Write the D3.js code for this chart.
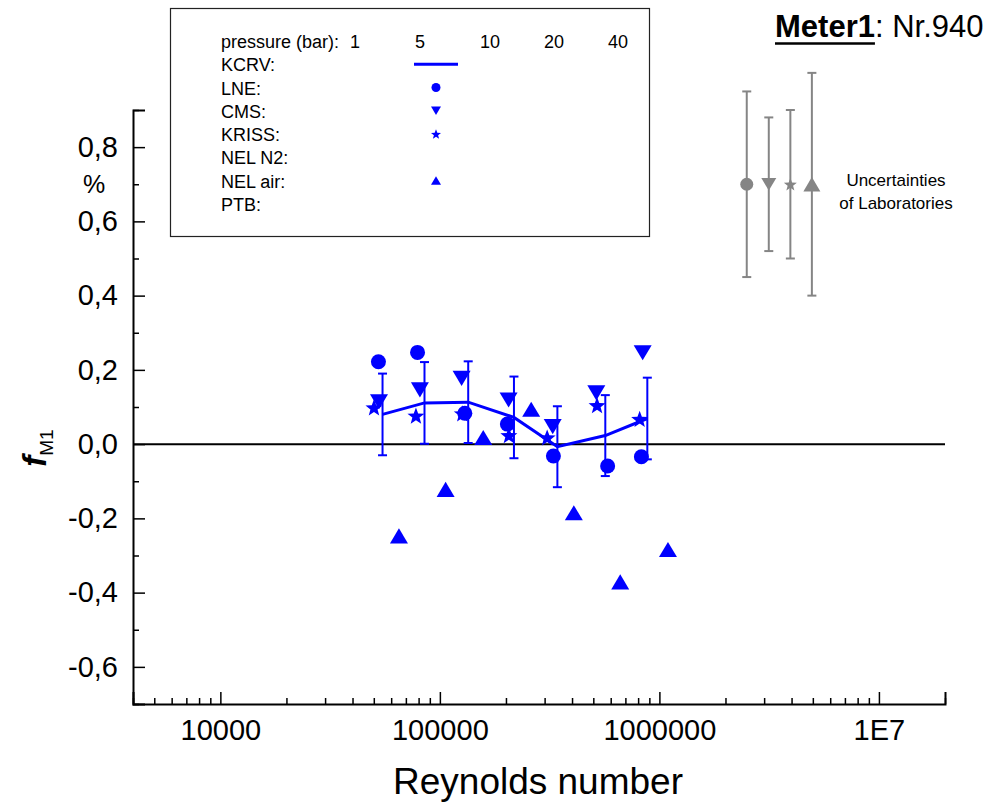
<!DOCTYPE html>
<html><head><meta charset="utf-8">
<script src="https://cdn.jsdelivr.net/npm/d3@7"></script>
<style>
body{margin:0;background:#fff}
svg{display:block}
text{font-family:"Liberation Sans",Arial,Helvetica,sans-serif}
</style>
</head><body>
<svg id="chart" width="994" height="807"></svg>
<script>
// ---------- data ----------
const kcrvRe = [54800, 85100, 134600, 217500, 343000, 567000, 881000];
const kcrvF  = [0.080, 0.111, 0.113, 0.072, -0.007, 0.023, 0.069];
const kcrvU  = [0.110, 0.110, 0.110, 0.110, 0.109, 0.109, 0.110];

const lneRe = [52500, 79100, 129900, 203000, 329000, 581000, 828000];
const lneF  = [0.222, 0.247, 0.083, 0.054, -0.032, -0.059, -0.034];

const cmsRe = [52800, 81100, 125600, 205600, 326600, 516000, 839000];
const cmsF  = [0.114, 0.146, 0.177, 0.119, 0.047, 0.138, 0.246];

const krissRe = [50100, 77800, 126500, 206200, 308100, 520000, 813000];
const krissF  = [0.099, 0.077, 0.083, 0.024, 0.018, 0.105, 0.068];

const nelAirRe = [65100, 106200, 157600, 260600, 407600, 663000, 1094000];
const nelAirF  = [-0.247, -0.122, 0.018, 0.094, -0.185, -0.371, -0.284];

// uncertainties of laboratories (LNE, CMS, KRISS, NEL air)
const labSymbols = ["circle", "down", "star", "up"];
const labRe = [2500000, 3150000, 3950000, 4950000];
const labF  = [0.70, 0.70, 0.70, 0.70];
const labU  = [0.25, 0.18, 0.20, 0.30];

const xTickValues = [10000, 100000, 1000000, 10000000];
const xTickLabels = ["10000", "100000", "1000000", "1E7"];
const yTickValues = [-0.6, -0.4, -0.2, 0, 0.2, 0.4, 0.6, 0.8];
const yTickLabels = ["-0,6", "-0,4", "-0,2", "0,0", "0,2", "0,4", "0,6", "0,8"];

const legendRows = ["pressure (bar):", "KCRV:", "LNE:", "CMS:", "KRISS:", "NEL N2:", "NEL air:", "PTB:"];
const pressures = ["1", "5", "10", "20", "40"];

// ---------- setup ----------
const BLUE = "#0000ff", GRAY = "#858585";
const svg = d3.select("#chart");
const x = d3.scaleLog().domain([4000, 2e7]).range([133, 945]);
const y = d3.scaleLinear().domain([-0.7, 0.9]).range([704, 110]);

function symPath(type, s) {
  if (type === "circle") return d3.symbol(d3.symbolCircle, Math.PI * (s / 2) * (s / 2))();
  if (type === "up") { const w = s, h = s * 0.84; return `M0,${-h/2}L${w/2},${h/2}L${-w/2},${h/2}Z`; }
  if (type === "down") { const w = s, h = s * 0.84; return `M0,${h/2}L${w/2},${-h/2}L${-w/2},${-h/2}Z`; }
  if (type === "star") {
    const R = s / 1.902, r = R * 0.42; let p = "";
    for (let i = 0; i < 10; i++) {
      const a = -Math.PI / 2 + i * Math.PI / 5, rr = i % 2 ? r : R;
      p += (i ? "L" : "M") + (rr * Math.cos(a)).toFixed(2) + "," + (rr * Math.sin(a) + R * 0.1).toFixed(2);
    }
    return p + "Z";
  }
}

// ---------- axes ----------
const axisG = svg.append("g");
const xMajor = d3.axisBottom(x).tickValues(xTickValues)
  .tickFormat((d, i) => xTickLabels[i]).tickSize(-12).tickPadding(15);
axisG.append("g").attr("transform", `translate(0,${y(-0.7)})`).call(xMajor);
const xMinorVals = x.ticks().filter(v => !xTickValues.includes(v));
axisG.append("g").attr("transform", `translate(0,${y(-0.7)})`)
  .call(d3.axisBottom(x).tickValues(xMinorVals).tickFormat("").tickSize(-6))
  .select(".domain").remove();

const yMajor = d3.axisLeft(y).tickValues(yTickValues)
  .tickFormat((d, i) => yTickLabels[i]).tickSize(-12).tickPadding(15);
axisG.append("g").attr("transform", `translate(${x(4000)},0)`).call(yMajor);
const yMinorVals = [-0.7, -0.5, -0.3, -0.1, 0.1, 0.3, 0.5, 0.7, 0.9];
axisG.append("g").attr("transform", `translate(${x(4000)},0)`)
  .call(d3.axisLeft(y).tickValues(yMinorVals).tickFormat("").tickSize(-6))
  .select(".domain").remove();

axisG.selectAll(".domain").attr("stroke", "#000").attr("stroke-width", 2);
axisG.selectAll(".tick line").attr("stroke", "#000").attr("stroke-width", 1.5);
axisG.selectAll(".tick text").attr("font-size", 29).attr("fill", "#000")
  .style("font-family", '"Liberation Sans",Arial,sans-serif');

// zero line
svg.append("line").attr("x1", x(4000)).attr("x2", x(2e7)).attr("y1", y(0)).attr("y2", y(0))
  .attr("stroke", "#000").attr("stroke-width", 2);

// axis titles
svg.append("text").attr("x", 538).attr("y", 794).attr("text-anchor", "middle")
  .attr("font-size", 37).text("Reynolds number");
const yl = svg.append("text").attr("transform", "translate(46,448) rotate(-90)").attr("text-anchor", "middle");
yl.append("tspan").attr("font-size", 33).attr("font-weight", "bold").attr("font-style", "italic").text("f");
yl.append("tspan").attr("font-size", 19).attr("dy", 7).text("M1");
svg.append("text").attr("x", 94).attr("y", 193).attr("text-anchor", "middle").attr("font-size", 25).text("%");

// ---------- KCRV with uncertainty ----------
const kcrv = kcrvRe.map((re, i) => ({ re, f: kcrvF[i], u: kcrvU[i] }));
const eb = svg.append("g").attr("stroke", BLUE).attr("stroke-width", 2);
kcrv.forEach(d => {
  const cx = x(d.re);
  eb.append("line").attr("x1", cx).attr("x2", cx).attr("y1", y(d.f + d.u)).attr("y2", y(d.f - d.u));
  eb.append("line").attr("x1", cx - 4.5).attr("x2", cx + 4.5).attr("y1", y(d.f + d.u)).attr("y2", y(d.f + d.u));
  eb.append("line").attr("x1", cx - 4.5).attr("x2", cx + 4.5).attr("y1", y(d.f - d.u)).attr("y2", y(d.f - d.u));
});
svg.append("path").datum(kcrv)
  .attr("d", d3.line().x(d => x(d.re)).y(d => y(d.f)))
  .attr("fill", "none").attr("stroke", BLUE).attr("stroke-width", 3);

// ---------- lab points ----------
function plotPoints(res, fs, type, size) {
  svg.append("g").selectAll("path").data(res.map((re, i) => ({ re, f: fs[i] }))).join("path")
    .attr("transform", d => `translate(${x(d.re)},${y(d.f)})`)
    .attr("d", symPath(type, size)).attr("fill", BLUE);
}
plotPoints(lneRe, lneF, "circle", 15);
plotPoints(cmsRe, cmsF, "down", 18);
plotPoints(krissRe, krissF, "star", 17);
plotPoints(nelAirRe, nelAirF, "up", 18);

// ---------- uncertainties of laboratories ----------
const ug = svg.append("g");
const labSizes = [13, 15, 13, 17];
labRe.forEach((re, i) => {
  const cx = x(re), t = y(labF[i] + labU[i]), b = y(labF[i] - labU[i]);
  ug.append("line").attr("x1", cx).attr("x2", cx).attr("y1", t).attr("y2", b).attr("stroke", GRAY).attr("stroke-width", 2);
  ug.append("line").attr("x1", cx - 4.5).attr("x2", cx + 4.5).attr("y1", t).attr("y2", t).attr("stroke", GRAY).attr("stroke-width", 2);
  ug.append("line").attr("x1", cx - 4.5).attr("x2", cx + 4.5).attr("y1", b).attr("y2", b).attr("stroke", GRAY).attr("stroke-width", 2);
  ug.append("path").attr("transform", `translate(${cx},${y(labF[i])})`)
    .attr("d", symPath(labSymbols[i], labSizes[i])).attr("fill", GRAY);
});
svg.append("text").attr("x", 896).attr("y", 186).attr("text-anchor", "middle").attr("font-size", 17).text("Uncertainties");
svg.append("text").attr("x", 896).attr("y", 209).attr("text-anchor", "middle").attr("font-size", 17).text("of Laboratories");

// ---------- legend ----------
const lg = svg.append("g");
lg.append("rect").attr("x", 170.5).attr("y", 8.5).attr("width", 479).attr("height", 228)
  .attr("fill", "#fff").attr("stroke", "#222").attr("stroke-width", 1.2);
const rowY = i => 48 + i * 23.25;
legendRows.forEach((t, i) => {
  lg.append("text").attr("x", 221).attr("y", rowY(i)).attr("font-size", 18).text(t);
});
const pX = [355, 420, 490, 554, 618];
pressures.forEach((p, i) => {
  lg.append("text").attr("x", pX[i]).attr("y", rowY(0)).attr("text-anchor", "middle").attr("font-size", 18).text(p);
});
const mx = 436;
lg.append("line").attr("x1", 414).attr("x2", 458).attr("y1", rowY(1) - 7).attr("y2", rowY(1) - 7)
  .attr("stroke", BLUE).attr("stroke-width", 3);
[["circle", 2, 9], ["down", 3, 10], ["star", 4, 10], ["up", 6, 10]].forEach(([type, row, s]) => {
  lg.append("path").attr("transform", `translate(${mx},${rowY(row) - 7})`).attr("d", symPath(type, s)).attr("fill", BLUE);
});

// ---------- title ----------
const tt = svg.append("text").attr("x", 775).attr("y", 37).attr("font-size", 31);
tt.append("tspan").attr("font-weight", "bold").text("Meter1");
tt.append("tspan").text(": Nr.940");
const bw = tt.select("tspan").node().getComputedTextLength();
svg.append("line").attr("x1", 775).attr("x2", 775 + bw).attr("y1", 43.5).attr("y2", 43.5)
  .attr("stroke", "#000").attr("stroke-width", 2.5);
</script>
</body></html>
